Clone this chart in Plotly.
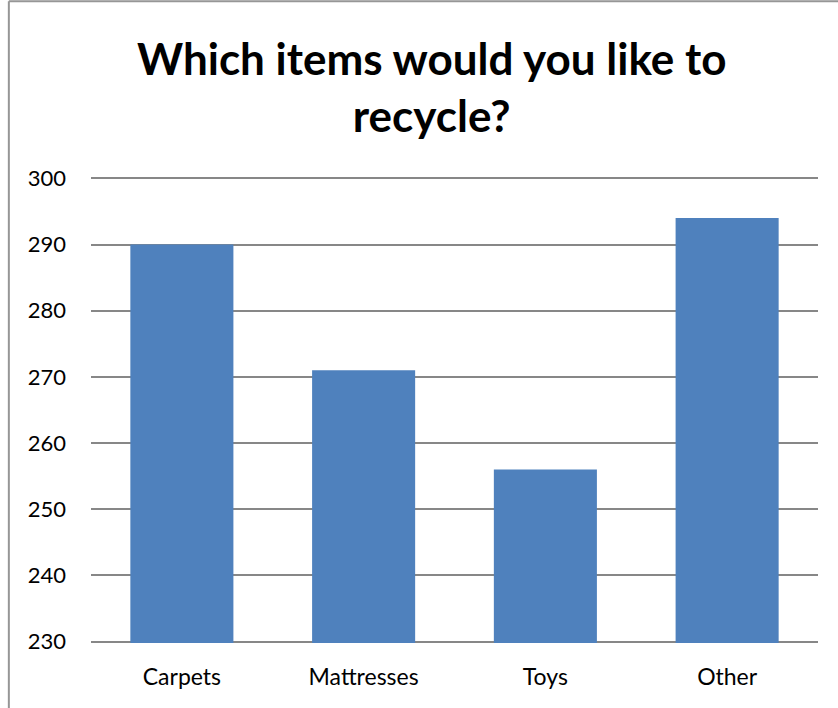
import plotly.graph_objects as go

# Survey results: items people would like to recycle
categories = ["Carpets", "Mattresses", "Toys", "Other"]
responses = [290, 271, 256, 294]
y_ticks = [230, 240, 250, 260, 270, 280, 290, 300]
title_text = "Which items would you like to<br>recycle?"

BAR_COLOR = "#4F81BD"
GRID_COLOR = "#878787"
FRAME_COLOR = "#969696"
FONT = "Lato, Liberation Sans, Arial, sans-serif"

fig = go.Figure(
    go.Bar(
        x=categories,
        y=responses,
        marker=dict(color=BAR_COLOR, line=dict(width=0)),
        hoverinfo="x+y",
    )
)

fig.update_layout(
    width=838,
    height=708,
    margin=dict(l=91, r=20, t=177, b=65),
    paper_bgcolor="white",
    plot_bgcolor="white",
    bargap=0.433,
    showlegend=False,
    font=dict(family=FONT, color="black"),
    xaxis=dict(
        showgrid=False,
        showline=False,
        zeroline=False,
        ticks="",
        tickfont=dict(size=23),
        ticklabelstandoff=18,
    ),
    yaxis=dict(
        # padded slightly so the 230 and 300 gridlines are drawn
        range=[229.8, 300.2],
        tickvals=y_ticks,
        showgrid=True,
        gridcolor=GRID_COLOR,
        gridwidth=1.5,
        zeroline=False,
        showline=False,
        ticks="",
        tickfont=dict(size=22),
        ticklabelstandoff=24,
    ),
    annotations=[
        # chart title, centred on the whole chart frame
        dict(
            text="<b>" + title_text + "</b>",
            xref="paper", yref="paper",
            x=0.468, y=1.194,
            xanchor="center", yanchor="middle",
            showarrow=False,
            font=dict(size=44, family=FONT, color="black"),
        )
    ],
    shapes=[
        # chart frame: top and left edges
        dict(type="line", xref="paper", yref="paper", x0=-0.113, x1=1.2,
             y0=1.377, y1=1.377, line=dict(color=FRAME_COLOR, width=2)),
        dict(type="line", xref="paper", yref="paper", x0=-0.113, x1=-0.113,
             y0=1.377, y1=-0.3, line=dict(color=FRAME_COLOR, width=2)),
    ],
)

fig.write_html("out.html")
